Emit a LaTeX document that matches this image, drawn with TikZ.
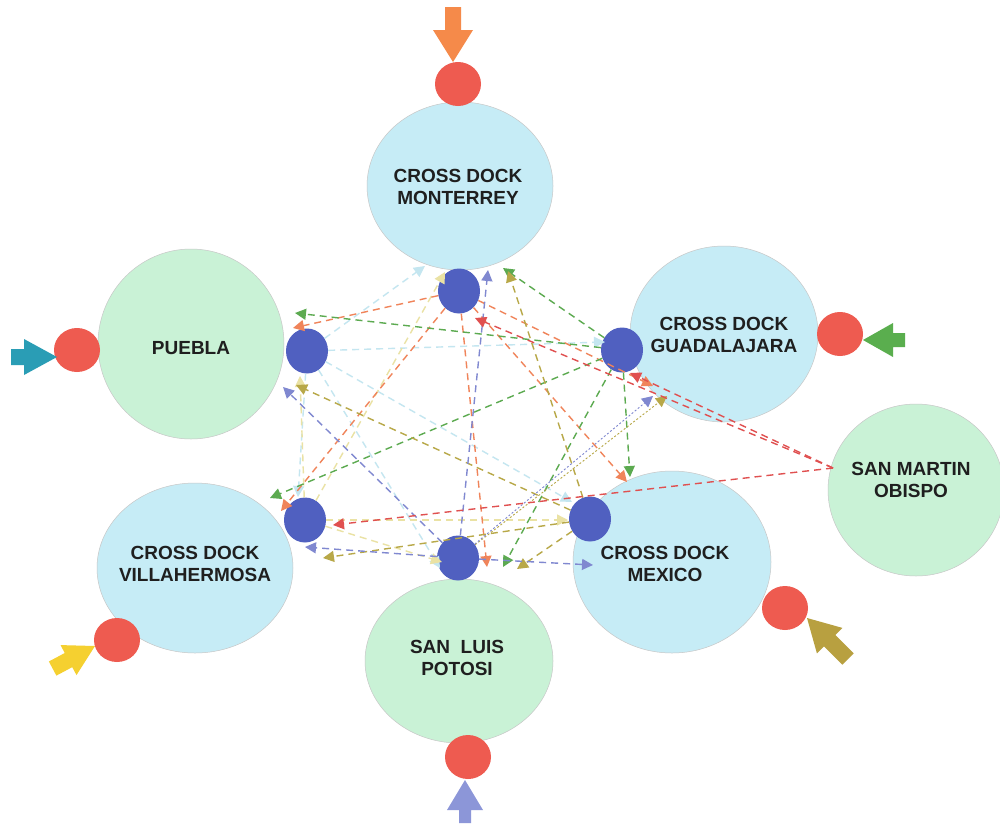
\documentclass[tikz,border=0pt]{standalone}
\usepackage{fontspec}
\setmainfont{Liberation Sans}
\usetikzlibrary{arrows.meta,shapes.geometric}
\definecolor{cdblue}{HTML}{C6ECF6}
\definecolor{cdgreen}{HTML}{C9F2D6}
\definecolor{dotblue}{HTML}{5060C0}
\definecolor{dotred}{HTML}{EE5B50}
\definecolor{aorange}{HTML}{F58A4A}
\definecolor{ateal}{HTML}{2A9DB5}
\definecolor{agreen}{HTML}{5AAE4E}
\definecolor{ayellow}{HTML}{F5D030}
\definecolor{aolive}{HTML}{B8A040}
\definecolor{aperi}{HTML}{8C96D8}
\definecolor{lorange}{HTML}{F0845A}
\definecolor{lgreen}{HTML}{5CAA50}
\definecolor{lolive}{HTML}{B8A848}
\definecolor{lperi}{HTML}{8088D0}
\definecolor{lred}{HTML}{E05050}
\definecolor{lcyan}{HTML}{C4E6F0}
\definecolor{lyellow}{HTML}{EAE2A4}
\newcommand\blkarrow[8]{\fill[#4,shift={(#1,#2)},rotate=#3] (0,0) -- (-#6,-#7) -- (-#6,-#8) -- (-#5,-#8) -- (-#5,#8) -- (-#6,#8) -- (-#6,#7) -- cycle;}
\begin{document}
\begin{tikzpicture}[x=1pt,y=-1pt,
  bigc/.style={ellipse, draw=black!22, line width=0.5pt, inner sep=0pt},
  bdot/.style={ellipse, fill=dotblue, inner sep=0pt, minimum width=42pt, minimum height=45pt},
  rdot/.style={ellipse, fill=dotred, inner sep=0pt, minimum width=46pt, minimum height=44pt},
  lab/.style={font=\bfseries\fontsize{19}{22}\selectfont, align=center, text=black!88},
  flow/.style={dash pattern=on 7pt off 5pt, line width=1.4pt, -{Triangle[length=11pt,width=11pt]}},
  thinflow/.style={dash pattern=on 2pt off 2pt, line width=0.9pt, -{Triangle[length=11pt,width=11pt]}}]
\useasboundingbox (0,0) rectangle (1000,825);
\fill[white] (0,0) rectangle (1000,825);
% big circles
\node[bigc, fill=cdblue, minimum width=186pt, minimum height=168pt] (mty) at (460,186) {};
\node[bigc, fill=cdgreen, minimum width=186pt, minimum height=190pt] (pue) at (191,344) {};
\node[bigc, fill=cdblue, minimum width=188pt, minimum height=176pt] (gdl) at (724,334) {};
\node[bigc, fill=cdgreen, minimum width=176pt, minimum height=172pt] (smo) at (916,490) {};
\node[bigc, fill=cdblue, minimum width=198pt, minimum height=182pt] (mex) at (672,562) {};
\node[bigc, fill=cdblue, minimum width=196pt, minimum height=170pt] (vhs) at (195,568) {};
\node[bigc, fill=cdgreen, minimum width=188pt, minimum height=164pt] (slp) at (459,661) {};
% labels
\node[lab] (mtyt) at (458,187) {CROSS DOCK\\MONTERREY};
\node[lab] (puet) at (191,348) {PUEBLA};
\node[lab] (gdlt) at (724,335) {CROSS DOCK\\GUADALAJARA};
\node[lab] (smot) at (911,480) {SAN MARTIN\\OBISPO};
\node[lab] (mext) at (665,564) {CROSS DOCK\\MEXICO};
\node[lab] (vhst) at (195,564) {CROSS DOCK\\VILLAHERMOSA};
\node[lab] (slpt) at (457,658) {SAN\ \ LUIS\\POTOSI};
% red dots
\node[rdot] (mtyr) at (458,84) {};
\node[rdot] (puer) at (77,350) {};
\node[rdot] (gdlr) at (840,334) {};
\node[rdot] (vhsr) at (117,640) {};
\node[rdot] (mexr) at (785,608) {};
\node[rdot] (slpr) at (468,757) {};
% block arrows
\blkarrow{453}{62}{-90}{aorange}{55}{32}{20}{8}
\blkarrow{57}{357}{0}{ateal}{46}{33}{18}{8}
\blkarrow{863}{340}{180}{agreen}{42}{30}{17}{7}
\blkarrow{95}{646}{28}{ayellow}{48}{30}{17}{8}
\blkarrow{807}{618}{135}{aolive}{58}{32}{18}{8}
\blkarrow{465}{780}{90}{aperi}{43}{30}{18}{6}
% blue dots
\node[bdot] (mtyd) at (459,291) {};
\node[bdot] (pued) at (307,351) {};
\node[bdot] (gdld) at (622,350) {};
\node[bdot] (vhsd) at (305,520) {};
\node[bdot] (mexd) at (590,519) {};
\node[bdot] (slpd) at (458,558) {};
\coordinate (smos) at (833,468);
% end points
\coordinate (oP) at (293,328); \coordinate (oV) at (281,511); \coordinate (oS) at (487,567);
\coordinate (oX) at (627,482); \coordinate (oG) at (653,386);
\coordinate (gM) at (503,268); \coordinate (gP) at (295,313); \coordinate (gV) at (270,498);
\coordinate (gS) at (503,567); \coordinate (gX) at (630,477);
\coordinate (lM) at (508,271); \coordinate (lP) at (296,385); \coordinate (lV) at (323,558);
\coordinate (lG) at (667,396); \coordinate (lS) at (517,569);
\coordinate (pM) at (488,270); \coordinate (pP) at (283,387); \coordinate (pV) at (305,547);
\coordinate (pX) at (593,565); \coordinate (pG) at (653,396);
\coordinate (rM) at (475,318); \coordinate (rG) at (630,373); \coordinate (rV) at (333,525);
\coordinate (cM) at (425,266); \coordinate (cG) at (605,342); \coordinate (cV) at (298,497);
\coordinate (cS) at (440,568); \coordinate (cX) at (572,502);
\coordinate (yP) at (300,376); \coordinate (yM) at (445,272); \coordinate (yG) at (660,395);
\coordinate (yX) at (568,520); \coordinate (yS) at (442,562);
% faint flows
\draw[flow, lcyan] (pued) -- (cM);
\draw[flow, lcyan] (pued) -- (cG);
\draw[flow, lcyan] (pued) -- (cV);
\draw[flow, lcyan] (pued) -- (cS);
\draw[flow, lcyan] (pued) -- (cX);
\draw[flow, lyellow] (vhsd) -- (yP);
\draw[flow, lyellow] (vhsd) -- (yM);
\draw[flow, lyellow] (vhsd) -- (yX);
\draw[flow, lyellow] (vhsd) -- (yS);
% orange flows (Monterrey)
\draw[flow, lorange] (mtyd) -- (oP);
\draw[flow, lorange] (mtyd) -- (oV);
\draw[flow, lorange] (mtyd) -- (oS);
\draw[flow, lorange] (mtyd) -- (oX);
\draw[flow, lorange] (mtyd) -- (oG);
% green flows (Guadalajara)
\draw[flow, lgreen] (gdld) -- (gM);
\draw[flow, lgreen] (gdld) -- (gP);
\draw[flow, lgreen] (gdld) -- (gV);
\draw[flow, lgreen] (gdld) -- (gS);
\draw[flow, lgreen] (gdld) -- (gX);
% olive flows (Mexico)
\draw[flow, lolive] (mexd) -- (lM);
\draw[flow, lolive] (mexd) -- (lP);
\draw[flow, lolive] (mexd) -- (lV);
\draw[flow, lolive] (mexd) -- (lS);
\draw[thinflow, lolive] (slpd) -- (lG);
% periwinkle flows (San Luis Potosi)
\draw[flow, lperi] (slpd) -- (pM);
\draw[flow, lperi] (slpd) -- (pP);
\draw[flow, lperi] (slpd) -- (pV);
\draw[flow, lperi] (slpd) -- (pX);
\draw[thinflow, lperi] (slpd) -- (pG);
% red flows (San Martin Obispo)
\draw[flow, lred] (smos) -- (rM);
\draw[flow, lred] (smos) -- (rG);
\draw[flow, lred] (smos) -- (rV);
\end{tikzpicture}
\end{document}
